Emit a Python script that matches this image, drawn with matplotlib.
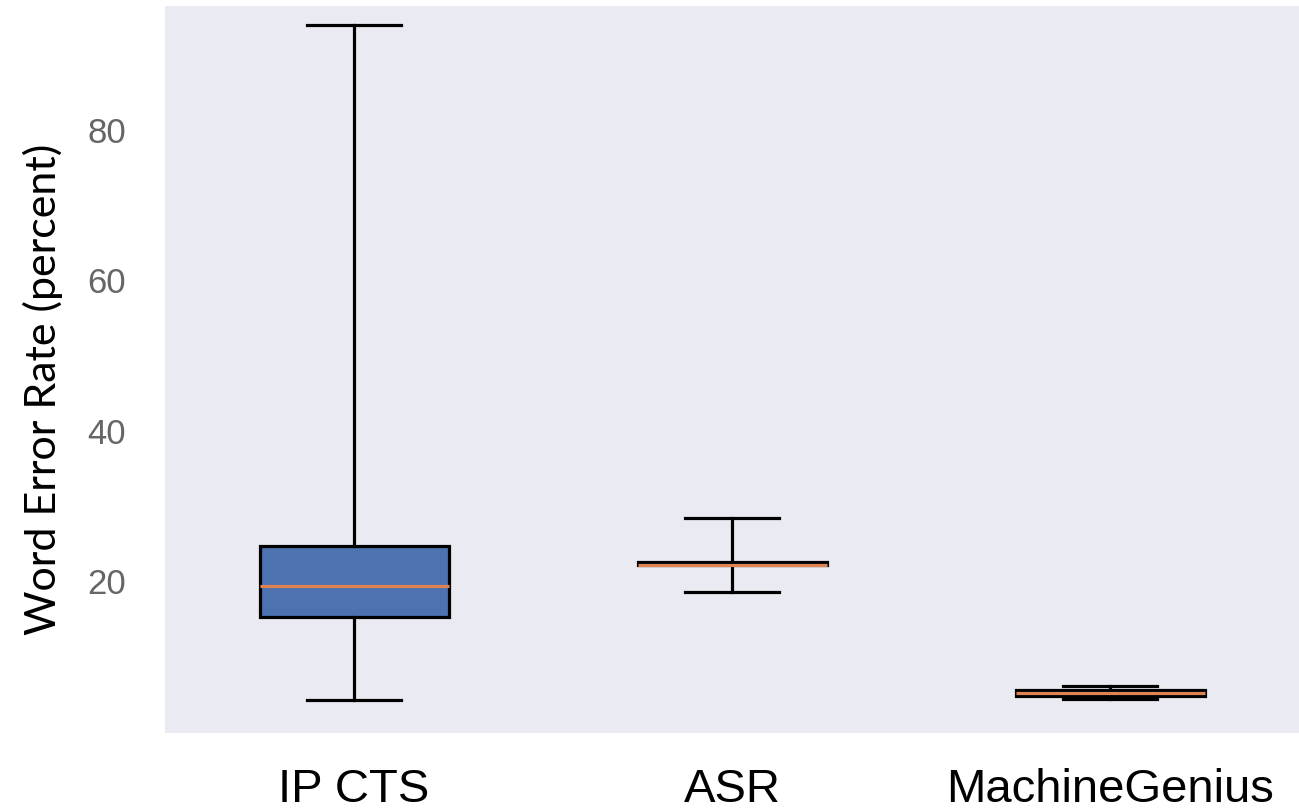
import matplotlib
matplotlib.use("Agg")
import matplotlib.pyplot as plt

# box statistics (word error rate, percent)
systems = ["IP CTS", "ASR", "MachineGenius"]
whisker_low = [4.2, 18.5, 4.3]
q1 = [15.2, 22.1, 4.7]
median = [19.3, 22.1, 5.1]
q3 = [24.7, 22.5, 5.5]
whisker_high = [94.0, 28.4, 6.0]

stats = []
for i, name in enumerate(systems):
    stats.append({
        "label": name,
        "whislo": whisker_low[i],
        "q1": q1[i],
        "med": median[i],
        "q3": q3[i],
        "whishi": whisker_high[i],
        "fliers": [],
    })

fig = plt.figure(figsize=(12.99, 8.10), dpi=100)
ax = fig.add_axes([165 / 1299, 77 / 810, 1134 / 1299, 727 / 810])
ax.set_facecolor("#EAEAF2")
for s in ax.spines.values():
    s.set_visible(False)

lw = 2.3
ax.bxp(
    stats,
    widths=0.5,
    showfliers=False,
    patch_artist=True,
    boxprops=dict(facecolor="#4C72B0", edgecolor="black", linewidth=lw),
    medianprops=dict(color="#DD8452", linewidth=lw),
    whiskerprops=dict(color="black", linewidth=lw),
    capprops=dict(color="black", linewidth=lw),
)

ax.set_xlim(0.5, 3.5)
ax.set_ylim(-0.2, 96.5)
ax.set_yticks([20, 40, 60, 80])
ax.tick_params(axis="y", length=0, pad=28, labelsize=25, labelcolor="#666666")
ax.tick_params(axis="x", length=0, pad=25, labelsize=34)
for t in ax.get_xticklabels():
    t.set_fontfamily("Liberation Sans")
for t in ax.get_yticklabels():
    t.set_fontfamily("Liberation Sans")

ax.set_ylabel("Word Error Rate (percent)", fontsize=31, family="Lato")
ax.yaxis.set_label_coords(-0.09, 0.472)

fig.savefig("out.png", dpi=100)
